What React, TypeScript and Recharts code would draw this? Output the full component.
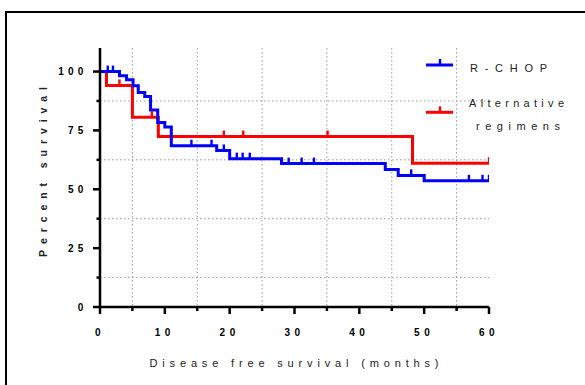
import { ComposedChart, Line, Scatter, XAxis, YAxis, CartesianGrid, Legend, Label } from 'recharts'

// Kaplan-Meier steps (months, percent survival)
const rchopTimes = [0, 3, 4.1, 5.1, 5.9, 6.9, 7.8, 8.9, 10, 11, 18, 20, 28, 44, 46, 50, 60]
const rchopSurvival = [100, 98.2, 96.5, 94, 91.1, 89.4, 83.7, 78.4, 76.5, 68.5, 66.5, 63, 60.9, 58.4, 55.9, 53.6, 53.6]
const rchopCensored = [1.2, 2, 14.1, 17.2, 19.1, 21.1, 22, 23.1, 29.1, 31.1, 33, 48, 56.9, 59, 60]

const altTimes = [0, 1, 5, 9, 48.2, 60]
const altSurvival = [100, 94.1, 80.6, 72.4, 61.1, 61.1]
const altCensored = [3, 8, 19.1, 22.1, 35.1, 60]

const xTicks = [0, 5, 10, 15, 20, 25, 30, 35, 40, 45, 50, 55, 60]
const xMinor = [5, 15, 25, 35, 45, 55]
const yTicks = [0, 12.5, 25, 37.5, 50, 62.5, 75, 87.5, 100]
const yMinor = [12.5, 37.5, 62.5, 87.5]

const BLUE = '#0000ff'
const RED = '#ff0000'
const FONT = '"Liberation Sans", Arial, sans-serif'

function survivalAt(times: number[], surv: number[], t: number) {
  let s = surv[0]
  times.forEach((tt, i) => {
    if (tt <= t) s = surv[i]
  })
  return s
}

const toSteps = (times: number[], surv: number[]) => times.map((t, i) => ({ t, s: surv[i] }))
const toCensor = (times: number[], surv: number[], cens: number[]) =>
  cens.map((t) => ({ t, s: survivalAt(times, surv, t) }))

const rchopLine = toSteps(rchopTimes, rchopSurvival)
const rchopMarks = toCensor(rchopTimes, rchopSurvival, rchopCensored)
const altLine = toSteps(altTimes, altSurvival)
const altMarks = toCensor(altTimes, altSurvival, altCensored)

const censorShape = (color: string) => (props: any) => (
  <rect x={props.cx - 1.2} y={props.cy - 6} width={2.4} height={6} fill={color} />
)

function XTick({ x, y, payload }: any) {
  const major = payload.value % 10 === 0
  return (
    <g>
      <line x1={x} x2={x} y1={y} y2={y + (major ? 7 : 4)} stroke="#000" strokeWidth={2.5} />
      {major && (
        <text x={x} y={y + 29} textAnchor="middle" fontSize={10} fontWeight="bold" letterSpacing={4.5} fontFamily={FONT} fill="#000">
          {payload.value}
        </text>
      )}
    </g>
  )
}

function YTick({ x, y, payload }: any) {
  const major = payload.value % 25 === 0
  return (
    <g>
      <line x1={x - (major ? 7 : 3.5)} x2={x} y1={y} y2={y} stroke="#000" strokeWidth={2.5} />
      {major && (
        <text x={x - 12.5} y={y + 3.6} textAnchor="end" fontSize={10} fontWeight="bold" letterSpacing={4.2} fontFamily={FONT} fill="#000">
          {payload.value}
        </text>
      )}
    </g>
  )
}

function KmLegend() {
  const rows = [
    { color: BLUE, y: 15 },
    { color: RED, y: 62.3 },
  ]
  return (
    <svg width={165} height={95}>
      {rows.map((r) => (
        <g key={r.color}>
          <line x1={6} x2={33} y1={r.y} y2={r.y} stroke={r.color} strokeWidth={3} />
          <rect x={18.8} y={r.y - 6} width={2.4} height={6} fill={r.color} />
        </g>
      ))}
      <text x={50} y={22.3} fontSize={11} fontFamily={FONT} fill="#222" textLength={77} lengthAdjust="spacing">R-CHOP</text>
      <text x={49} y={56.7} fontSize={11} fontFamily={FONT} fill="#222" textLength={95} lengthAdjust="spacing">Alternative</text>
      <text x={56} y={80} fontSize={11} fontFamily={FONT} fill="#222" textLength={84} lengthAdjust="spacing">regimens</text>
    </svg>
  )
}

export default function App() {
  return (
    <div style={{ position: 'absolute', left: 0, top: 0, width: 585, height: 385, background: '#fff', overflow: 'hidden' }}>
      <div style={{ position: 'absolute', left: 5, top: 11, width: 700, height: 500, border: '2.5px solid #000' }} />
      <div style={{ position: 'absolute', left: 0, top: 0 }}>
        <ComposedChart width={585} height={385} margin={{ top: 48, right: 96, left: 0, bottom: 0 }}>
          <CartesianGrid
            verticalValues={xMinor}
            horizontalValues={yMinor}
            stroke="#9a9a9a"
            strokeWidth={1}
            strokeDasharray="1.5 2.5"
          />
          <XAxis
            dataKey="t"
            type="number"
            domain={[0, 60]}
            ticks={xTicks}
            interval={0}
            height={78}
            tickSize={0}
            tickMargin={0}
            tickLine={false}
            tick={<XTick />}
            axisLine={{ stroke: '#000', strokeWidth: 2.5 }}
            allowDataOverflow
          >
            <Label
              content={() => (
                <text x={149.5} y={367} fontSize={11} fontFamily={FONT} fill="#222" textLength={289} lengthAdjust="spacing">
                  Disease free survival (months)
                </text>
              )}
            />
          </XAxis>
          <YAxis
            type="number"
            domain={[0, 110]}
            ticks={yTicks}
            interval={0}
            width={100}
            tickSize={0}
            tickMargin={0}
            tickLine={false}
            tick={<YTick />}
            axisLine={{ stroke: '#000', strokeWidth: 2.5 }}
            allowDataOverflow
          >
            <Label
              content={() => (
                <text
                  x={47}
                  y={257}
                  transform="rotate(-90 47 257)"
                  fontSize={10.5}
                  fontWeight="bold"
                  fontFamily={FONT}
                  fill="#222"
                  textLength={170}
                  lengthAdjust="spacing"
                >
                  Percent survival
                </text>
              )}
            />
          </YAxis>
          <Line data={altLine} dataKey="s" type="stepAfter" stroke={RED} strokeWidth={3} dot={false} isAnimationActive={false} />
          <Scatter data={altMarks} dataKey="s" shape={censorShape(RED)} isAnimationActive={false} />
          <Line data={rchopLine} dataKey="s" type="stepAfter" stroke={BLUE} strokeWidth={3} dot={false} isAnimationActive={false} />
          <Scatter data={rchopMarks} dataKey="s" shape={censorShape(BLUE)} isAnimationActive={false} />
          <Legend
            layout="horizontal"
            verticalAlign="middle"
            align="center"
            content={() => <KmLegend />}
            wrapperStyle={{ left: 420, top: 50, width: 165, height: 95 }}
          />
        </ComposedChart>
      </div>
    </div>
  )
}
